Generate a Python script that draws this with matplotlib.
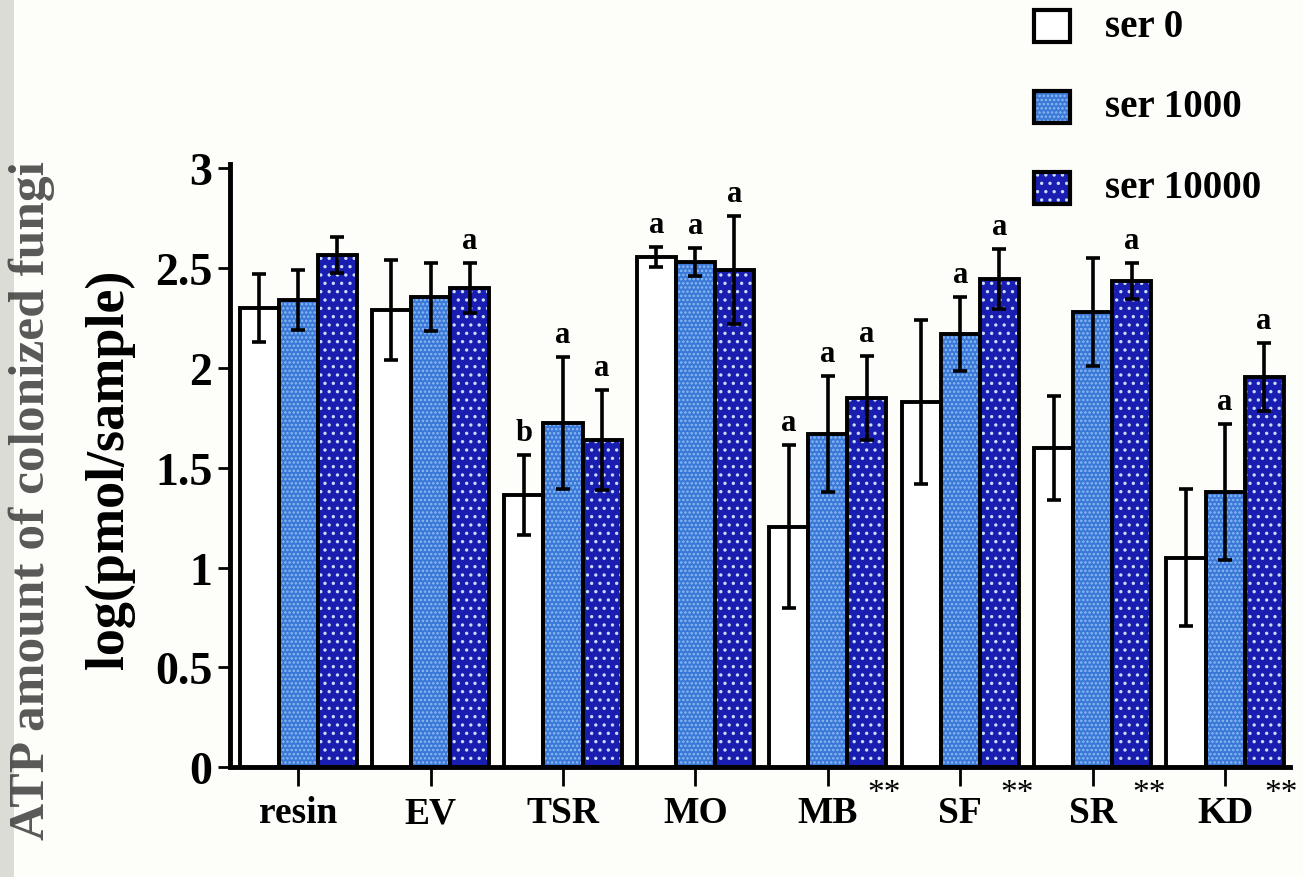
import matplotlib
matplotlib.use("Agg")
import matplotlib.pyplot as plt
import numpy as np

categories = ["resin", "EV", "TSR", "MO", "MB", "SF", "SR", "KD"]
stars = ["", "", "", "", "**", "**", "**", "**"]
series = ["ser 0", "ser 1000", "ser 10000"]

ser0 = [2.30, 2.29, 1.365, 2.555, 1.205, 1.83, 1.60, 1.05]
ser0_err = [0.17, 0.25, 0.20, 0.05, 0.41, 0.41, 0.26, 0.345]
ser1000 = [2.34, 2.355, 1.725, 2.53, 1.67, 2.17, 2.28, 1.38]
ser1000_err = [0.15, 0.17, 0.33, 0.07, 0.29, 0.185, 0.27, 0.34]
ser10000 = [2.565, 2.40, 1.64, 2.49, 1.85, 2.445, 2.435, 1.955]
ser10000_err = [0.09, 0.125, 0.25, 0.27, 0.21, 0.15, 0.09, 0.17]

letters0 = ["", "", "b", "a", "a", "", "", ""]
letters1000 = ["", "", "a", "a", "a", "a", "", "a"]
letters10000 = ["", "a", "a", "a", "a", "a", "a", "a"]

ytick_vals = [0, 0.5, 1, 1.5, 2, 2.5, 3]
ytick_labels = ["0", "0.5", "1", "1.5", "2", "2.5", "3"]

plt.rcParams["font.family"] = ["Liberation Serif", "DejaVu Serif"]
plt.rcParams["hatch.linewidth"] = 1.2

fig = plt.figure(figsize=(13.03, 8.78), dpi=100, facecolor="#fdfdf9")
# scan shadow at left edge
fig.add_artist(plt.Rectangle((0, 0), 0.011, 1, transform=fig.transFigure,
                             facecolor="#dcdcd6", edgecolor="none"))
ax = fig.add_axes([0.179, 0.125, 0.811, 0.687])
ax.set_facecolor("none")
ax.spines["left"].set_position(("outward", 2))
ax.spines["top"].set_visible(False)
ax.spines["right"].set_visible(False)
ax.spines["left"].set_linewidth(3.5)
ax.spines["bottom"].set_linewidth(3.5)

x = np.arange(len(categories))
w = 0.295
offsets = [-w, 0, w]
vals = [ser0, ser1000, ser10000]
errs = [ser0_err, ser1000_err, ser10000_err]
letters = [letters0, letters1000, letters10000]
faces = ["white", "#3a78d8", "#1a1eb0"]
hatch_cols = [None, "#8dbaf2", "#c8dcff"]
hatches = [None, "....", ".."]

for i in range(3):
    pos = x + offsets[i]
    if hatches[i]:
        ax.bar(pos, vals[i], w, color=faces[i], edgecolor=hatch_cols[i],
               hatch=hatches[i], linewidth=0, zorder=2)
        ax.bar(pos, vals[i], w, fill=False, edgecolor="black", linewidth=2.8, zorder=3)
    else:
        ax.bar(pos, vals[i], w, color=faces[i], edgecolor="black", linewidth=2.8, zorder=3)
    ax.errorbar(pos, vals[i], yerr=errs[i], fmt="none", ecolor="black",
                elinewidth=2.6, capsize=5, capthick=2.6, zorder=4)
    for p, v, e, t in zip(pos, vals[i], errs[i], letters[i]):
        if t:
            ax.text(p, v + e + 0.04, t, ha="center", va="bottom",
                    fontsize=22, fontweight="bold", zorder=5)

ax.set_xlim(-0.49, 7.49)
ax.set_ylim(0, 3.02)
ax.set_yticks(ytick_vals)
ax.set_yticklabels(ytick_labels)
ax.set_xticks(x)
ax.set_xticklabels(categories)
ax.tick_params(axis="y", length=9, width=2, pad=4, direction="out", labelsize=33)
ax.tick_params(axis="x", length=14, width=2, pad=6, direction="out", labelsize=27)
for lab in ax.get_xticklabels() + ax.get_yticklabels():
    lab.set_fontweight("bold")

for xi, s in zip(x, stars):
    if s:
        ax.text(xi + 0.30, -0.05, s, ha="left", va="top", fontsize=24,
                transform=ax.transData, clip_on=False)

fig.text(0.084, 0.465, "log(pmol/sample)", rotation=90, ha="center", va="center",
         fontsize=39, fontweight="bold")
fig.text(0.024, 0.43, "ATP amount of colonized fungi", rotation=90, ha="center",
         va="center", fontsize=37, fontweight="bold", color="#3c3c3c", alpha=0.85)

# legend
leg_y = [0.969, 0.877, 0.785]
sq_x, sq_w, sq_h = 0.7935, 0.028, 0.037
for yy, lab, fc, hc, h in zip(leg_y, series, faces, hatch_cols, hatches):
    if h:
        r = plt.Rectangle((sq_x, yy - sq_h / 2), sq_w, sq_h, transform=fig.transFigure,
                          facecolor=fc, edgecolor=hc, hatch=h, linewidth=0)
        fig.add_artist(r)
    r2 = plt.Rectangle((sq_x, yy - sq_h / 2), sq_w, sq_h, transform=fig.transFigure,
                       facecolor="white" if not h else "none", edgecolor="black", linewidth=3)
    fig.add_artist(r2)
    fig.text(0.848, yy, lab, ha="left", va="center", fontsize=28, fontweight="bold")

fig.savefig("out.png", dpi=100, facecolor=fig.get_facecolor())
